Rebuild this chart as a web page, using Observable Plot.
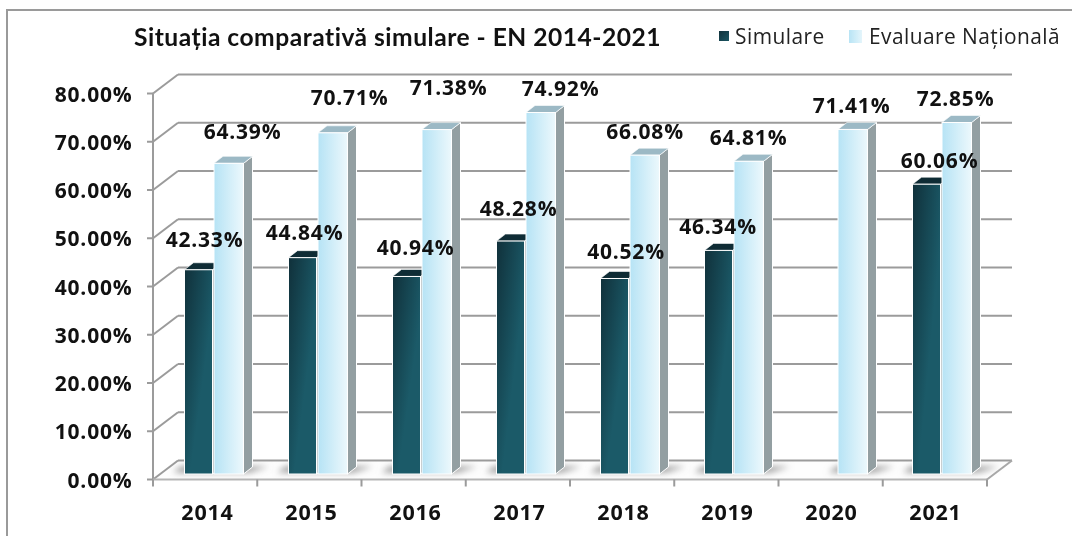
<!DOCTYPE html>
<html><head><meta charset="utf-8">
<script src="https://cdn.jsdelivr.net/npm/d3@7"></script>
<script src="https://cdn.jsdelivr.net/npm/@observablehq/plot@0.6"></script>
<style>
html,body{margin:0;padding:0;background:#fff}
#wrap{position:relative;width:1072px;height:536px;overflow:hidden;background:#fff;filter:blur(.4px)}
#frame{position:absolute;left:6px;top:9px;width:1070px;height:540px;border:2px solid #9a9a9a;box-sizing:border-box}
#plot{position:absolute;left:0;top:0}
#plot svg{background:transparent}
#plot svg text{letter-spacing:.8px}
.hd{position:absolute;white-space:nowrap;color:#1a1a1a}
#title{left:134px;top:21px;font:700 24.6px/32px "Lato";color:#111;letter-spacing:.5px}
.lg{font:400 20.9px/32px "Open Sans";top:20px;letter-spacing:.45px;color:#222}
.sw{position:absolute}
</style></head><body>
<div id="wrap"><div id="frame"></div><div id="plot"></div>
<div id="title" class="hd">Situația comparativă simulare - EN 2014-2021</div>
<div class="sw" style="left:719px;top:31px;width:10px;height:10px;background:linear-gradient(135deg,#12323c,#1a5663)"></div>
<div class="hd lg" style="left:735px">Simulare</div>
<div class="sw" style="left:849px;top:30px;width:13px;height:13px;background:linear-gradient(90deg,#b8e4f5,#e4f5fb)"></div>
<div class="hd lg" style="left:869px">Evaluare Națională</div>
</div>
<script>
const years = [2014, 2015, 2016, 2017, 2018, 2019, 2020, 2021];
const simulare = [42.33, 44.84, 40.94, 48.28, 40.52, 46.34, null, 60.06];
const evaluare = [64.39, 70.71, 71.38, 74.92, 66.08, 64.81, 71.41, 72.85];
const yTicks = [0, 10, 20, 30, 40, 50, 60, 70, 80];

const simRows = years.map((year, i) => ({year, value: simulare[i]})).filter(d => d.value != null);
const evalRows = years.map((year, i) => ({year, value: evaluare[i]}));

// manually placed data labels of the original: nudges from band centre / value
const simNudge = {2014:[-3,-35],2015:[-7,-30.5],2016:[0,-34.5],2017:[-1,-38],2018:[2.5,-32.5],2019:[-9.5,-29.5],2021:[4,-29]};
const evalNudge = {2014:[35,-37],2015:[38,-41],2016:[33,-47.5],2017:[41,-29.5],2018:[21.5,-29],2019:[21,-29],2020:[20,-29],2021:[20,-29.5]};

const NS = "http://www.w3.org/2000/svg";
const el = (name, attrs) => {
  const e = document.createElementNS(NS, name);
  for (const k in attrs) e.setAttribute(k, attrs[k]);
  return e;
};
const poly = (pts, attrs) => el("polygon", {points: pts.map(p => p.join(",")).join(" "), ...attrs});

const defs = () => {
  const d = el("defs", {});
  const grad = (id, stops, box) => {
    const g = el("linearGradient", {id, ...box});
    stops.forEach(([o, c]) => g.appendChild(el("stop", {offset: o, "stop-color": c})));
    d.appendChild(g);
  };
  grad("simGrad", [[0, "#10303a"], [1, "#1b5a68"]], {x1: 0, y1: 0, x2: 0.6, y2: 0.6});
  grad("evalGrad", [[0, "#b6e3f5"], [1, "#ecf8fc"]], {x1: 0, y1: 0, x2: 1, y2: 0});
  const f = el("filter", {id: "blur", x: "-30%", y: "-100%", width: "160%", height: "300%"});
  f.appendChild(el("feGaussianBlur", {stdDeviation: 3.2}));
  d.appendChild(f);
  return d;
};

const DX = 25, DY = -19, GRID = "#9b9b9b";

const chrome = (index, scales, values, dim) => {
  const g = el("g", {});
  const {y} = scales;
  const l = dim.marginLeft - 1, r = dim.width - dim.marginRight;
  const y0 = y(0);
  const band = (r - l) / years.length;
  const line = (x1, y1, x2, y2, stroke = GRID, w = 2) =>
    g.appendChild(el("line", {x1, y1, x2, y2, stroke, "stroke-width": w}));
  // floor
  g.appendChild(poly([[l, y0], [r, y0], [r + DX, y0 + DY], [l + DX, y0 + DY]], {fill: "#fdfdfd"}));
  // back wall gridlines and left-wall diagonals
  yTicks.forEach(t => {
    line(l + DX, y(t) + DY, r + DX, y(t) + DY);
    line(l, y(t), l + DX, y(t) + DY);
    line(l - 6, y(t), l, y(t));
  });
  line(l, y(80), l, y0);
  // front floor edges
  line(l, y0, r, y0, "#b5b5b5");
  line(r, y0, r + DX, y0 + DY, "#a8a8a8");
  years.forEach((_, i) => line(l + band * i, y0, l + band * i, y0 + 7));
  line(r, y0, r, y0 + 7);
  // soft floor shadows behind each group
  years.forEach((yr, i) => {
    const x = l + band * i;
    const start = simulare[i] == null ? 50 : 20;
    g.appendChild(poly([[x + start, y0 - 7], [x + 96, y0 - 7], [x + 116, y0 - 13], [x + start + 8, y0 - 13]],
      {fill: "#9a9a9a", filter: "url(#blur)"}));
  });
  return g;
};

// Turns each Plot bar into a small box: adds the side and top faces to the rect.
const box = (topFill) => (index, scales, values, dim, ctx, next) => {
  const g = next(index, scales, values, dim, ctx);
  g.querySelectorAll("rect").forEach(rc => {
    const x = +rc.getAttribute("x"), y = +rc.getAttribute("y"),
          w = +rc.getAttribute("width"), h = +rc.getAttribute("height");
    const dx = 9, dy = -7;
    const side = poly([[x + w, y], [x + w + dx, y + dy], [x + w + dx, y + h + dy], [x + w, y + h]],
      {fill: "#939fa2", stroke: "#fff", "stroke-width": 1});
    const top = poly([[x, y], [x + dx, y + dy], [x + w + dx, y + dy], [x + w, y]],
      {fill: topFill, stroke: "#fff", "stroke-width": 0.6});
    g.insertBefore(side, rc);
    g.insertBefore(top, rc);
    rc.setAttribute("stroke", "#fff");
    rc.setAttribute("stroke-width", 1);
  });
  return g;
};

const labelMarks = (rows, nudge) => rows.map(d => Plot.text([d], {
  x: "year", y: "value",
  text: v => v.value.toFixed(2) + "%",
  dx: nudge[d.year][0], dy: nudge[d.year][1],
  fontSize: 21, fontWeight: 700, fill: "#111",
  stroke: "none"
}));

const chart = Plot.plot({
  width: 1072, height: 536,
  marginLeft: 154, marginRight: 85, marginTop: 93.5, marginBottom: 56.5,
  style: {fontFamily: "'Open Sans'", background: "transparent", overflow: "visible"},
  x: {type: "band", domain: years, padding: 0, label: null},
  y: {domain: [0, 80], label: null},
  marks: [
    defs,
    chrome,
    Plot.axisY({ticks: yTicks, tickSize: 0, tickPadding: 22, tickFormat: d => d.toFixed(2) + "%",
      label: null, fontSize: 21, fontWeight: 700, fill: "#111", dy: 1}),
    Plot.axisX({tickSize: 0, tickPadding: 24.5, tickFormat: d => String(d), label: null,
      fontSize: 21.5, fontWeight: 700, fill: "#111"}),
    Plot.barY(simRows, {x: "year", y: "value", dx: 7.5, dy: -5.5, insetLeft: 22, insetRight: 54,
      fill: "url(#simGrad)", render: box("#0f2c35")}),
    Plot.barY(evalRows, {x: "year", y: "value", dx: 7.5, dy: -5.5, insetLeft: 51.5, insetRight: 23,
      fill: "url(#evalGrad)", render: box("#9cb9c5")}),
    ...labelMarks(simRows, simNudge),
    ...labelMarks(evalRows, evalNudge)
  ]
});
document.getElementById("plot").appendChild(chart);
</script></body></html>
